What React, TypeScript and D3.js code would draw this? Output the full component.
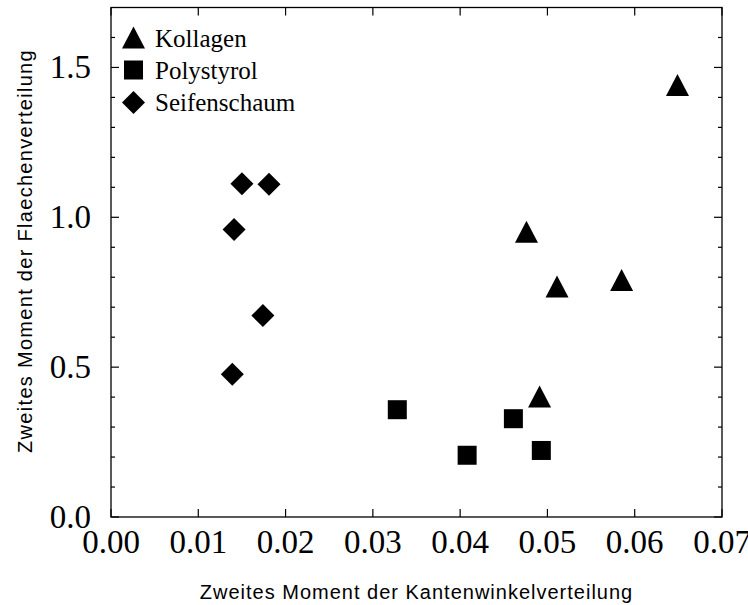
import React from "react";
import * as d3 from "d3";

const kollagenX = [0.0649, 0.0476, 0.0511, 0.0585, 0.0491];
const kollagenY = [1.441, 0.952, 0.769, 0.791, 0.402];
const polystyrolX = [0.0328, 0.0408, 0.0461, 0.0493];
const polystyrolY = [0.358, 0.206, 0.328, 0.222];
const seifenX = [0.015, 0.0181, 0.0141, 0.0174, 0.0139];
const seifenY = [1.112, 1.11, 0.959, 0.672, 0.476];

const xTicks = [0, 0.01, 0.02, 0.03, 0.04, 0.05, 0.06, 0.07];
const yMajor = [0, 0.5, 1.0, 1.5];
const yMinor = d3.range(0, 17).map((i) => i / 10);
const seriesNames = ["Kollagen", "Polystyrol", "Seifenschaum"];

const W = 748;
const H = 605;
const L = 111, R = 722, T = 7.5, B = 517;

const x = d3.scaleLinear().domain([0, 0.07]).range([L, R]);
const y = d3.scaleLinear().domain([0, 1.7]).range([B, T]);

const tri = (cx: number, cy: number) => {
  const p = d3.path();
  p.moveTo(cx, cy - 11);
  p.lineTo(cx + 11.5, cy + 11);
  p.lineTo(cx - 11.5, cy + 11);
  p.closePath();
  return p.toString();
};
const sq = (cx: number, cy: number) => {
  const p = d3.path();
  p.rect(cx - 9.5, cy - 9.5, 19, 19);
  return p.toString();
};
const dia = (cx: number, cy: number) => {
  const p = d3.path();
  p.moveTo(cx, cy - 11.5);
  p.lineTo(cx + 11.5, cy);
  p.lineTo(cx, cy + 11.5);
  p.lineTo(cx - 11.5, cy);
  p.closePath();
  return p.toString();
};
const shapes = [tri, sq, dia];

export default function App() {
  const serif = "'Liberation Serif', 'Times New Roman', serif";
  const sans = "'Liberation Sans', Arial, sans-serif";
  return (
    <svg width={W} height={H} style={{ position: "absolute", left: 0, top: 0, background: "#fff" }}>
      <rect x={0} y={0} width={W} height={H} fill="#fff" />
      {xTicks.map((t, i) => (
        <g key={"xt" + i} stroke="#000" strokeWidth={1.2}>
          <line x1={x(t)} x2={x(t)} y1={B} y2={B - 8} />
          <line x1={x(t)} x2={x(t)} y1={T} y2={T + 8} />
        </g>
      ))}
      {yMinor.map((t, i) => {
        const major = yMajor.some((m) => Math.abs(m - t) < 1e-9);
        const len = major ? 8 : 4;
        return (
          <g key={"yt" + i} stroke="#000" strokeWidth={1.2}>
            <line x1={L} x2={L + len} y1={y(t)} y2={y(t)} />
            <line x1={R} x2={R - len} y1={y(t)} y2={y(t)} />
          </g>
        );
      })}
      <rect x={L} y={T} width={R - L} height={B - T} fill="none" stroke="#000" strokeWidth={1.3} />
      {xTicks.map((t, i) => (
        <text key={"xl" + i} x={x(t)} y={553} textAnchor="middle" fontFamily={serif} fontSize={33}>
          {t.toFixed(2)}
        </text>
      ))}
      {yMajor.map((t, i) => (
        <text key={"yl" + i} x={91} y={y(t) + 11} textAnchor="end" fontFamily={serif} fontSize={33}>
          {t.toFixed(1)}
        </text>
      ))}
      <text x={(L + R) / 2} y={599} textAnchor="middle" fontFamily={sans} fontSize={20} letterSpacing={1}>
        Zweites Moment der Kantenwinkelverteilung
      </text>
      <text transform={`translate(32, 251) rotate(-90)`} textAnchor="middle" fontFamily={sans} fontSize={20} letterSpacing={1.3}>
        Zweites Moment der Flaechenverteilung
      </text>
      {kollagenX.map((v, i) => (
        <path key={"k" + i} d={tri(x(v), y(kollagenY[i]))} fill="#000" />
      ))}
      {polystyrolX.map((v, i) => (
        <path key={"p" + i} d={sq(x(v), y(polystyrolY[i]))} fill="#000" />
      ))}
      {seifenX.map((v, i) => (
        <path key={"s" + i} d={dia(x(v), y(seifenY[i]))} fill="#000" />
      ))}
      {seriesNames.map((n, i) => (
        <g key={"lg" + i}>
          <path d={shapes[i](133.5, 37.5 + i * 32.5)} fill="#000" />
          <text x={155} y={46.5 + i * 32} fontFamily={serif} fontSize={25}>
            {n}
          </text>
        </g>
      ))}
    </svg>
  );
}
